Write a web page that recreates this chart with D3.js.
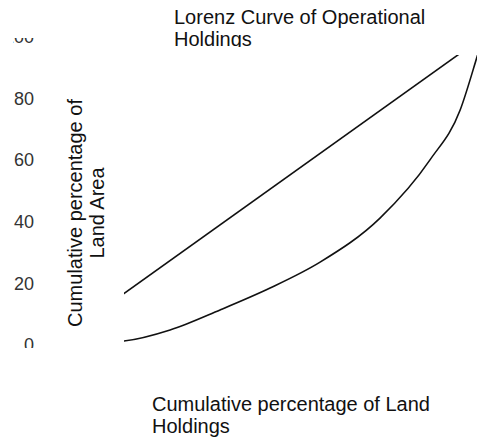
<!DOCTYPE html>
<html>
<head>
<meta charset="utf-8">
<script src="https://cdn.jsdelivr.net/npm/d3@7"></script>
<style>
    body { margin: 0; background: #fff; }
    text { font-family: "Liberation Sans", Arial, sans-serif; }
</style>
</head>
<body>
<div class="vis-lorenz"></div>
<script>
// cumulative % of land holdings (x) and of land area (y)
const holdingsPct = [0, 16.7, 27.4, 39.0, 50.6, 62.2, 76.1, 87.7, 94.7, 98.6, 100];
const areaPct     = [0, 1.3, 4.9, 11.4, 18.5, 26.9, 41.2, 60.1, 76.3, 93.5, 100];
// line of equality
const equalityPct = [0, 100];
const yTicks = [0, 20, 40, 60, 80, 100];

const titleLines = ['Lorenz Curve of Operational', 'Holdings'];
const xLabelLines = ['Cumulative percentage of Land', 'Holdings'];
const yLabelLines = ['Cumulative percentage of', 'Land Area'];

const draw = (outerWidth, outerHeight) => {
    const svg = d3.select('.vis-lorenz').append('svg')
        .attr('width', outerWidth)
        .attr('height', outerHeight);

    const x = d3.scaleLinear().domain([0, 100]).range([52, 483]);
    const y = d3.scaleLinear().domain([0, 100]).range([345, 37]);

    const defs = svg.append('defs');
    defs.append('clipPath').attr('id', 'plot-clip')
        .append('rect').attr('x', 124).attr('y', 55).attr('width', 360).attr('height', 300);
    defs.append('clipPath').attr('id', 'tick-clip')
        .append('rect').attr('x', 13).attr('y', 38).attr('width', 40).attr('height', 310);
    defs.append('clipPath').attr('id', 'title-clip')
        .append('rect').attr('x', 0).attr('y', 0).attr('width', outerWidth).attr('height', 47);

    // title
    svg.append('text')
        .attr('clip-path', 'url(#title-clip)')
        .attr('font-size', 20)
        .attr('fill', '#111')
        .selectAll('tspan')
        .data(titleLines)
        .enter().append('tspan')
        .attr('x', 174)
        .attr('y', (d, i) => 24 + i * 22)
        .text(d => d);

    // y tick labels
    const yAxis = svg.append('g')
        .attr('clip-path', 'url(#tick-clip)')
        .append('g')
        .attr('transform', 'translate(34,0)')
        .call(d3.axisLeft(y).tickValues(yTicks).tickSize(0).tickPadding(0));
    yAxis.select('.domain').remove();
    yAxis.selectAll('text')
        .attr('font-size', 18)
        .attr('font-family', '"Liberation Sans", Arial, sans-serif')
        .attr('fill', '#333');

    // y axis title
    svg.append('text')
        .attr('transform', 'translate(82,213) rotate(-90)')
        .attr('text-anchor', 'middle')
        .attr('font-size', 20)
        .attr('fill', '#111')
        .selectAll('tspan')
        .data(yLabelLines)
        .enter().append('tspan')
        .attr('x', 0)
        .attr('y', (d, i) => i * 22)
        .text(d => d);

    // x axis title
    svg.append('text')
        .attr('font-size', 20)
        .attr('fill', '#111')
        .selectAll('tspan')
        .data(xLabelLines)
        .enter().append('tspan')
        .attr('x', 152)
        .attr('y', (d, i) => 411 + i * 22)
        .text(d => d);

    const plot = svg.append('g').attr('clip-path', 'url(#plot-clip)');

    const line = d3.line()
        .x(d => x(d[0]))
        .y(d => y(d[1]));

    plot.append('path')
        .datum(equalityPct.map(v => [v, v]))
        .attr('fill', 'none')
        .attr('stroke', '#111')
        .attr('stroke-width', 1.6)
        .attr('d', line);

    plot.append('path')
        .datum(holdingsPct.map((h, i) => [h, areaPct[i]]))
        .attr('fill', 'none')
        .attr('stroke', '#111')
        .attr('stroke-width', 1.6)
        .attr('d', line.curve(d3.curveMonotoneX));
};

draw(477, 437);
</script>
</body>
</html>
